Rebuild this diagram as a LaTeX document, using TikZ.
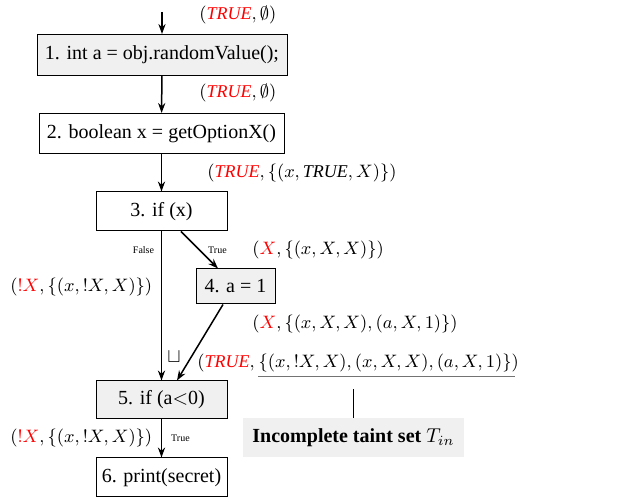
\documentclass[tikz,border=0pt]{standalone}
\usepackage[no-math]{fontspec}
\setmainfont{Liberation Serif}
\usepackage{amssymb}
\usepackage{xcolor}
\usepackage{tikz}
\usetikzlibrary{positioning, arrows.meta}
\tikzset{
  >={Stealth[length=5pt,width=3.6pt]},
  stmt/.style={draw,line width=0.5pt,inner sep=0pt},
  stmt gray/.style={stmt,fill=black!6},
  flow/.style={->,line width=0.75pt},
  state/.style={inner sep=0pt,anchor=west,font=\fontsize{9}{11}\selectfont},
  branch/.style={font=\tiny,inner sep=0pt}
}
\newcommand{\tru}{\textcolor{red}{\textit{TRUE}}}
\newcommand{\rX}{\textcolor{red}{X}}

\begin{document}
\begin{tikzpicture}[x=0.5pt,y=-0.5pt]
\useasboundingbox (0,0) rectangle (638,502);

% Statements
\coordinate (start) at (162,12);
\node[stmt gray, minimum width=125pt, minimum height=20.5pt] (s1) at (162,55) {1. int a = obj.randomValue();};
\node[stmt, minimum width=122.5pt, minimum height=20pt] (s2) at (161.5,133.5) {2. boolean x = getOptionX()};
\node[stmt, minimum width=65.5pt, minimum height=19.5pt] (s3) at (161.5,211.5) {3. if (x)};
\node[stmt gray, minimum width=39.5pt, minimum height=17.5pt] (s4) at (235.5,286.5) {4. a = 1};
\node[stmt gray, minimum width=65.5pt, minimum height=19pt] (s5) at (161.5,400) {5. if (a$<$0)};
\node[stmt, minimum width=65.5pt, minimum height=19.5pt] (s6) at (161.5,477.5) {6. print(secret)};

% Taint states
\node[state] (t1) at (199,15) {$($\tru$, \emptyset)$};
\node[state] (t2) at (199,93) {$($\tru$, \emptyset)$};
\node[state] (t3) at (207,173) {$($\tru$, \{(x, \textit{TRUE}, X)\})$};
\node[state] (t4) at (252,250) {$(\rX, \{(x, X, X)\})$};
\node[state] (t5) at (10,287) {$(\textcolor{red}{!}\rX, \{(x, !X, X)\})$};
\node[state] (t6) at (252,324) {$(\rX, \{(x, X, X), (a, X, 1)\})$};
\node[state] (t7) at (197,363) {$($\tru$,$};
\node[state] (t7set) at (t7.east) {$\,\{(x, !X, X), (x, X, X), (a, X, 1)\})$};
\node[state] (t8) at (10,438) {$(\textcolor{red}{!}\rX, \{(x, !X, X)\})$};
\node at (174,357) {$\sqcup$};

% Branch labels
\node[branch] (lfalse) at (143.5,250) {False};
\node[branch] (ltrue) at (217.5,250) {True};
\node[branch] (ltrue2) at (180.5,438) {True};

% Incomplete taint set
\node[fill=black!6, minimum width=110.5pt, minimum height=19.5pt, inner sep=0pt, font=\bfseries] (tin) at (353.5,437.5) {Incomplete taint set $T_{in}$};

% Connections
\draw[flow] (start) -- (s1);
\draw[flow] (s1) -- (s2);
\draw[flow] (s2) -- (s3);
\draw[flow] (s3) -- (s5);
\draw[flow] ([xshift=9.75pt]s3.south) -- ([xshift=-8.75pt]s4.north);
\draw[flow] ([xshift=-6.25pt]s4.south) -- ([xshift=7.75pt]s5.north);
\draw[flow] (s5) -- (s6);

% Underline and link to the taint set
\draw[black!55, line width=0.6pt] ([xshift=1.5pt,yshift=-2pt]t7set.south west) -- ([xshift=-2pt,yshift=-2pt]t7set.south east);
\draw[line width=0.75pt] (tin.north) -- ++(0,-29);

\end{tikzpicture}
\end{document}
